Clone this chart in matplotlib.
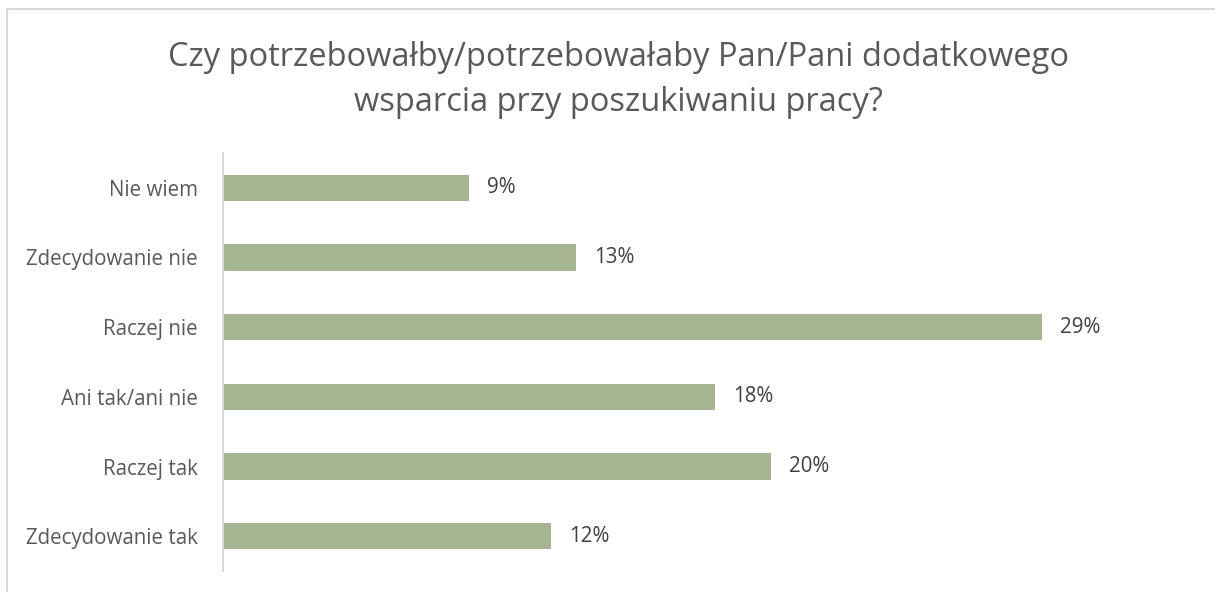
import matplotlib
matplotlib.use("Agg")
import matplotlib.pyplot as plt
from matplotlib.patches import Rectangle

categories = ["Zdecydowanie tak", "Raczej tak", "Ani tak/ani nie", "Raczej nie", "Zdecydowanie nie", "Nie wiem"]
values = [12.0, 20.05, 18.0, 29.95, 12.9, 9.0]
value_labels = ["12%", "20%", "18%", "29%", "13%", "9%"]
title = "Czy potrzebowałby/potrzebowałaby Pan/Pani dodatkowego\nwsparcia przy poszukiwaniu pracy?"

W, H = 1215, 592
plt.rcParams['font.family'] = ['Open Sans', 'DejaVu Sans']
fig = plt.figure(figsize=(W / 100, H / 100), dpi=100)
fig.patch.set_facecolor("white")

# outer border
fig.add_artist(Rectangle((7 / W, -0.5), 2.0, 1.5 - 9 / H, transform=fig.transFigure,
                         fill=False, edgecolor="#D9D9D9", linewidth=1.5))

ax_left = 223 / W
ax_bottom = (H - 571) / H
ax_top = (H - 153) / H
xmax = 35
px_per = 27.35
ax = fig.add_axes([ax_left, ax_bottom, xmax * px_per / W, ax_top - ax_bottom])

y = range(len(categories))
ax.barh(y, values, height=0.375, color="#A5B592", edgecolor="none")
ax.set_xlim(0, xmax)
ax.set_ylim(-0.5, len(categories) - 0.5)
ax.set_yticks(list(y))
ax.set_yticklabels(categories, fontsize=14.8, color="#595959")
ax.tick_params(axis="y", length=0, pad=18)
ax.set_xticks([])
for s in ["top", "right", "bottom"]:
    ax.spines[s].set_visible(False)
ax.spines["left"].set_color("#D9D9D9")
ax.spines["left"].set_linewidth(1.5)

for yi, v, lab in zip(y, values, value_labels):
    ax.annotate(lab, (v, yi), xytext=(13, 0), textcoords="offset points",
                va="center", ha="left", fontsize=14.8, color="#404040")

fig.text(0.509, (H - 80) / H, title, ha="center", va="center", fontsize=23.5,
         color="#595959", linespacing=1.45)

fig.savefig("out.png", dpi=100, facecolor="white")
